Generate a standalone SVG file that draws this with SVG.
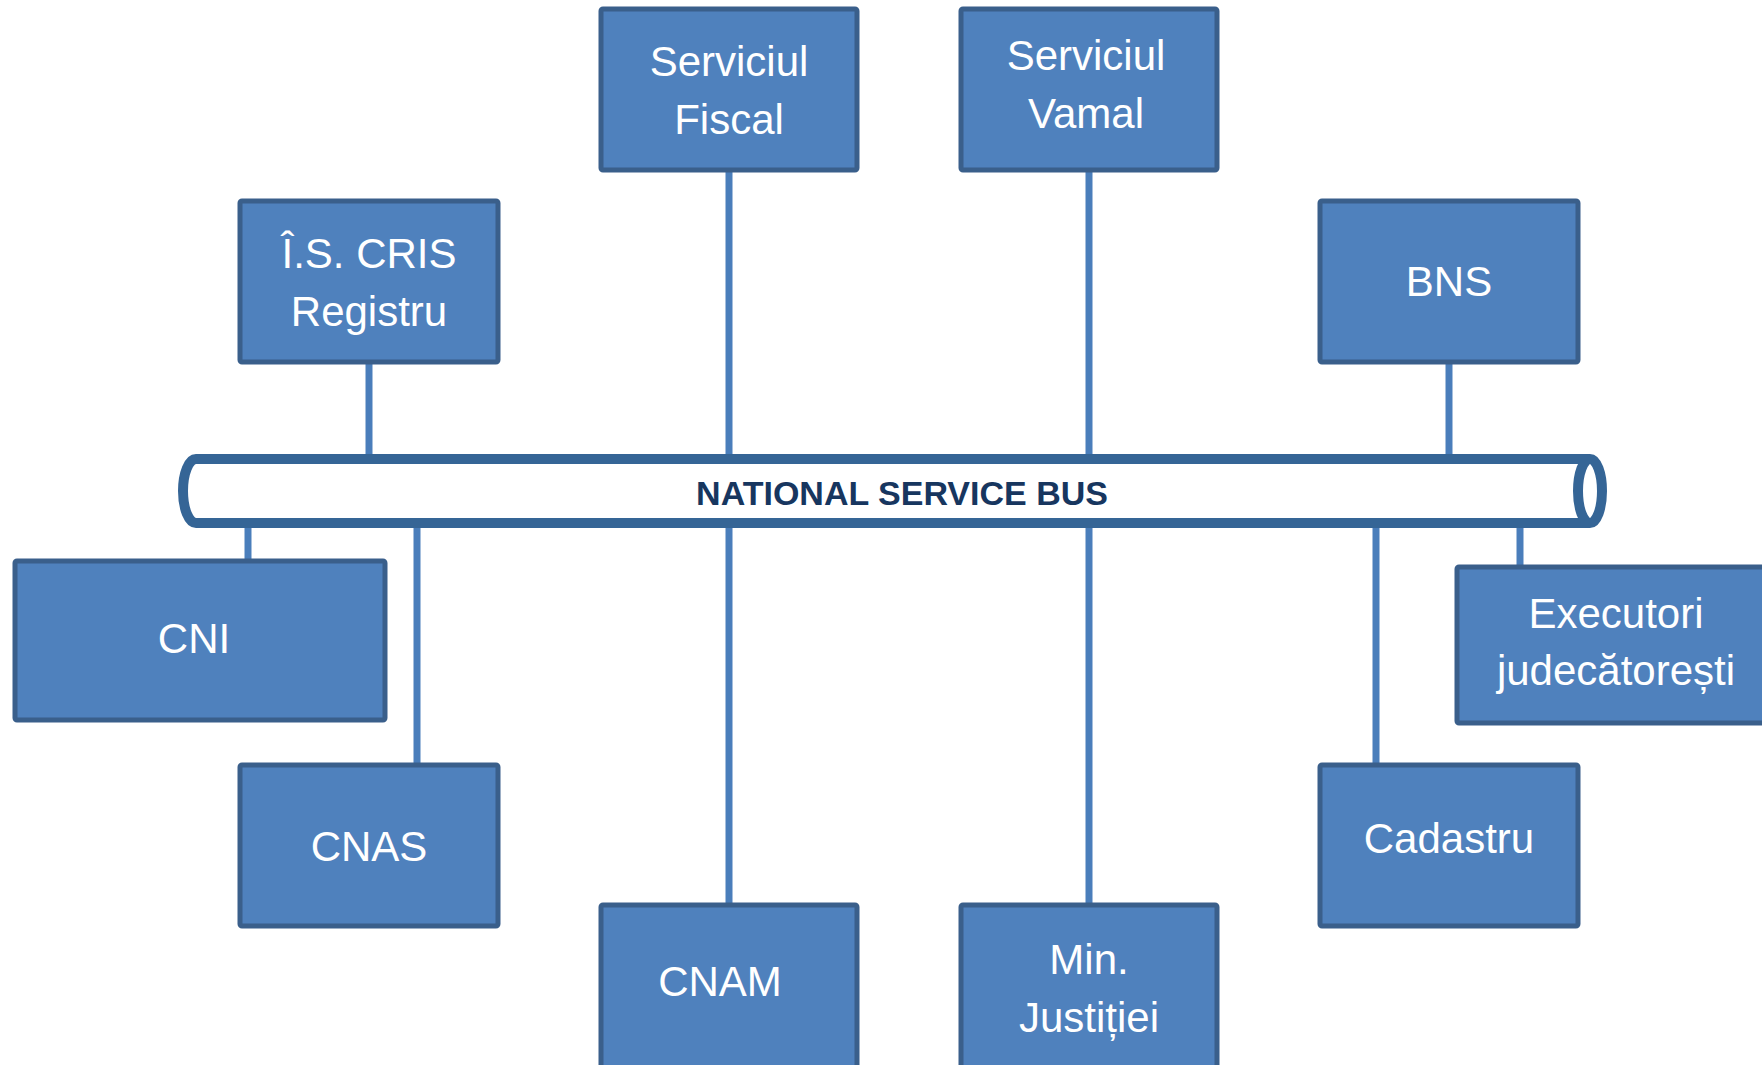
<svg xmlns="http://www.w3.org/2000/svg" width="1762" height="1065" viewBox="0 0 1762 1065">
<style>
.box{fill:#4F81BD;stroke:#3A5F8B;stroke-width:5}
.lbl{font-family:"Liberation Sans",Arial,sans-serif;font-size:42px;fill:#FFFFFF;text-anchor:middle}
.conn{stroke:#4A7EBB;stroke-width:7;fill:none}
.bus{fill:#FFFFFF;stroke:#356596;stroke-width:10}
.bustxt{font-family:"Liberation Sans",Arial,sans-serif;font-size:34px;font-weight:bold;fill:#17365F;text-anchor:middle}
</style>
<rect width="1762" height="1065" fill="#FFFFFF"/>
<g id="connectors">
<line class="conn" x1="729" y1="170" x2="729" y2="456"/>
<line class="conn" x1="1089" y1="170" x2="1089" y2="456"/>
<line class="conn" x1="369" y1="362" x2="369" y2="456"/>
<line class="conn" x1="1449" y1="362" x2="1449" y2="456"/>
<line class="conn" x1="248" y1="527" x2="248" y2="561"/>
<line class="conn" x1="417" y1="527" x2="417" y2="765"/>
<line class="conn" x1="729" y1="527" x2="729" y2="905"/>
<line class="conn" x1="1089" y1="527" x2="1089" y2="905"/>
<line class="conn" x1="1376" y1="527" x2="1376" y2="765"/>
<line class="conn" x1="1520" y1="527" x2="1520" y2="567"/>
</g>
<g id="bus">
<path class="bus" d="M196,459 L1590,459 A12,32 0 0 1 1590,523 L196,523 A13,32 0 0 1 196,459 Z"/>
<path class="bus" d="M1590,459 A12,32 0 0 0 1590,523"/>
<text class="bustxt" x="902" y="505">NATIONAL SERVICE BUS</text>
</g>
<g id="serviciul-fiscal">
<rect class="box" x="601" y="9" width="256" height="161" rx="2"/>
<text class="lbl" x="729" y="76">Serviciul</text>
<text class="lbl" x="729" y="134">Fiscal</text>
</g>
<g id="serviciul-vamal">
<rect class="box" x="961" y="9" width="256" height="161" rx="2"/>
<text class="lbl" x="1086" y="70">Serviciul</text>
<text class="lbl" x="1086" y="128">Vamal</text>
</g>
<g id="is-cris">
<rect class="box" x="240" y="201" width="258" height="161" rx="2"/>
<text class="lbl" x="369" y="268">Î.S. CRIS</text>
<text class="lbl" x="369" y="326">Registru</text>
</g>
<g id="bns">
<rect class="box" x="1320" y="201" width="258" height="161" rx="2"/>
<text class="lbl" x="1449" y="296">BNS</text>
</g>
<g id="cni">
<rect class="box" x="15" y="561" width="370" height="159" rx="2"/>
<text class="lbl" x="194" y="653">CNI</text>
</g>
<g id="cnas">
<rect class="box" x="240" y="765" width="258" height="161" rx="2"/>
<text class="lbl" x="369" y="861">CNAS</text>
</g>
<g id="cnam">
<rect class="box" x="601" y="905" width="256" height="175" rx="2"/>
<text class="lbl" x="720" y="996">CNAM</text>
</g>
<g id="min-justitiei">
<rect class="box" x="961" y="905" width="256" height="175" rx="2"/>
<text class="lbl" x="1089" y="974">Min.</text>
<text class="lbl" x="1089" y="1032">Justiției</text>
</g>
<g id="cadastru">
<rect class="box" x="1320" y="765" width="258" height="161" rx="2"/>
<text class="lbl" x="1449" y="853">Cadastru</text>
</g>
<g id="executori">
<rect class="box" x="1457" y="567" width="330" height="156" rx="2"/>
<text class="lbl" x="1616" y="628">Executori</text>
<text class="lbl" x="1616" y="685">judecătorești</text>
</g>
</svg>
